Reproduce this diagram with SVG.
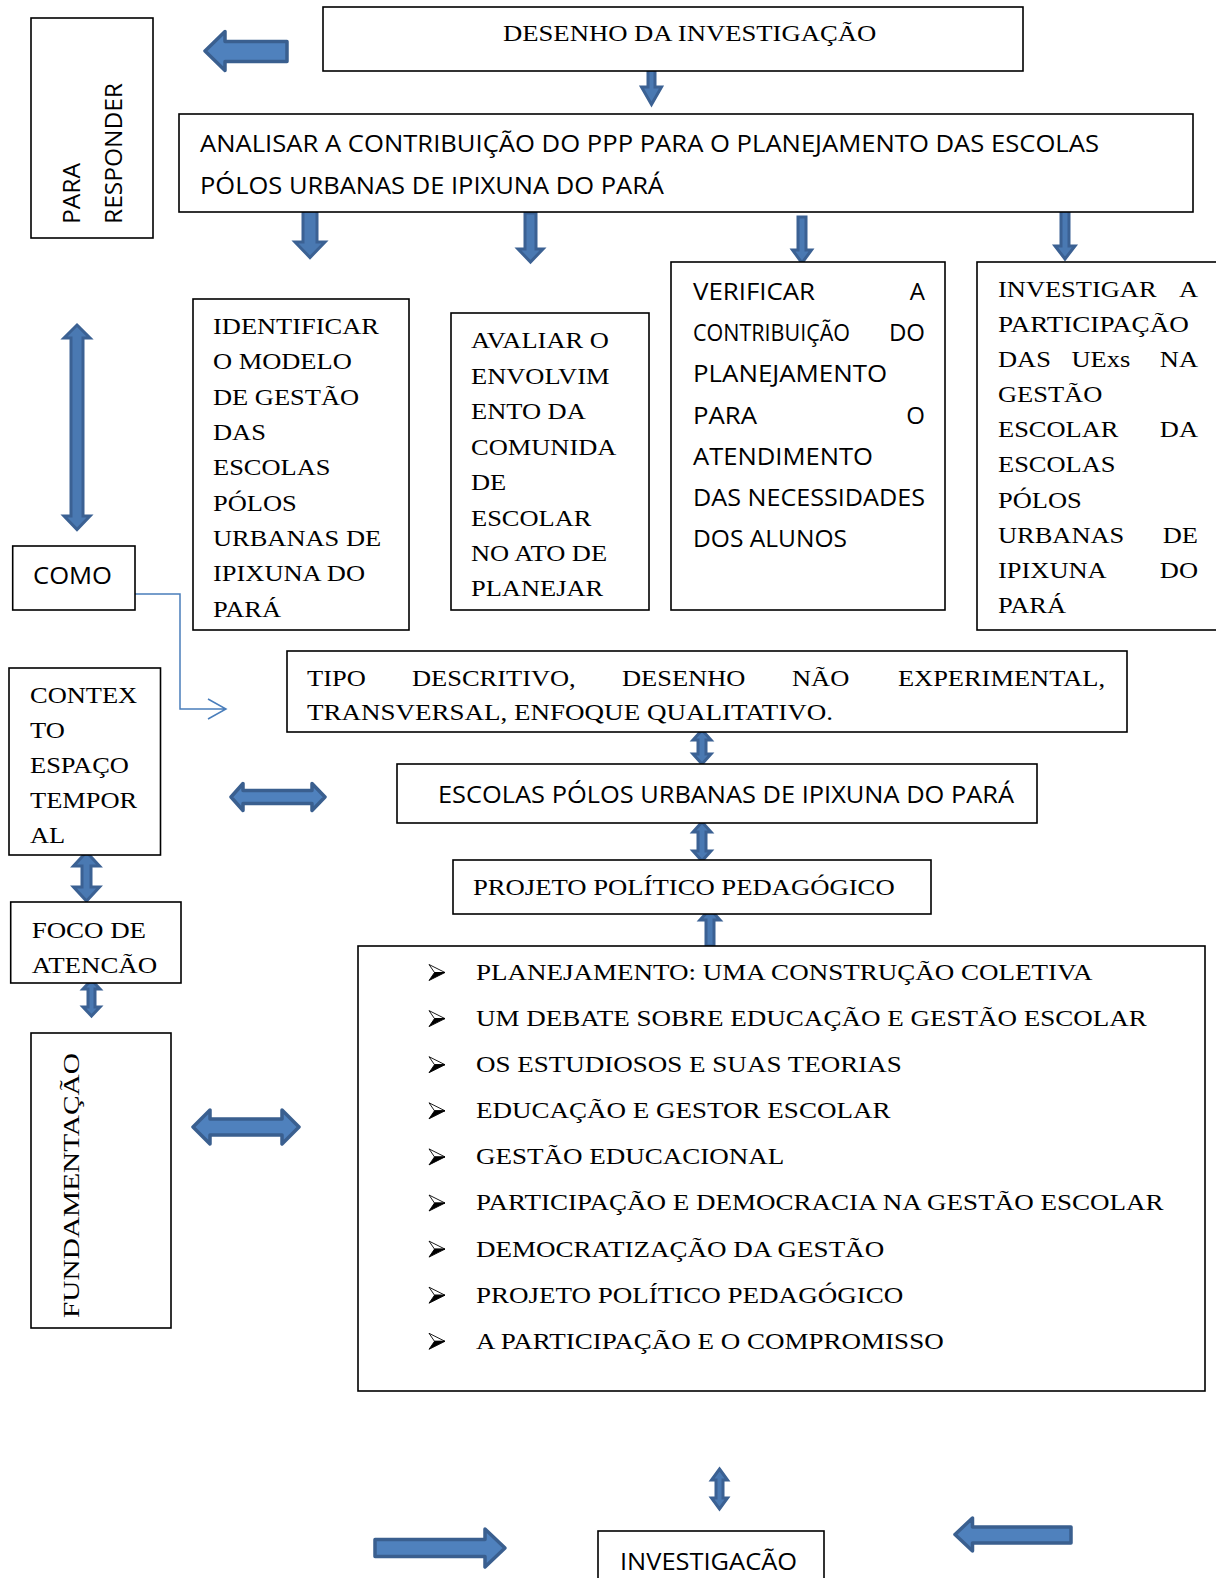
<svg xmlns="http://www.w3.org/2000/svg" xmlns:xlink="http://www.w3.org/1999/xlink" width="1216" height="1578" viewBox="0 0 1216 1578">
<style>
.box{fill:#fff;stroke:#000;stroke-width:1.6}
.sr{font-family:"Liberation Serif","Times New Roman",serif;font-size:23px;fill:#000}
.ss{font-family:"Open Sans","Noto Sans",sans-serif;font-size:24px;fill:#000}
.blk{fill:#4f81bd;stroke:#3a5f8f;stroke-width:3.5;stroke-linejoin:round}
.thin{fill:#4a79b2;stroke:#3b6193;stroke-width:3;stroke-linejoin:miter}
.con{fill:none;stroke:#4a7ebb;stroke-width:1.5}
</style>
<defs>
  <g id="bullet">
    <path d="M-16,-8 L0,0 L-10.5,0 Z" fill="#fff" stroke="#000" stroke-width="0.9" stroke-linejoin="round"/>
    <path d="M-10.5,0 L0,0 L-16,8 Z" fill="#000" stroke="#000" stroke-width="0.9" stroke-linejoin="round"/>
  </g>
</defs>
<rect width="1216" height="1578" fill="#fff"/>

<g id="connectors">
  <path class="blk" d="M205,51 L225,31.5 L225,41.5 L287,41.5 L287,61.5 L225,61.5 L225,70.5 Z"/>
  <path class="thin" d="M648,69 L655,69 L655,87 L661.5,87 L651.5,104.5 L641.5,87 L648,87 Z"/>
  <path class="thin" d="M303,210 L317,210 L317,242 L325,242 L310,257.5 L295,242 L303,242 Z"/>
  <path class="thin" d="M525,213 L536,213 L536,249 L543,249 L530.5,262 L518,249 L525,249 Z"/>
  <path class="thin" d="M798,217 L806,217 L806,250 L811.5,250 L802,263 L792.5,250 L798,250 Z"/>
  <path class="thin" d="M1061,210 L1069,210 L1069,246 L1075,246 L1065,259 L1055,246 L1061,246 Z"/>
  <path class="thin" d="M77,325 L90,338 L83,338 L83,516 L90,516 L77,529.5 L64,516 L71,516 L71,338 L64,338 Z"/>
  <path class="thin" d="M86.5,852 L99.5,866 L91,866 L91,887 L99.5,887 L86.5,901 L73.5,887 L82,887 L82,866 L73.5,866 Z"/>
  <path class="thin" d="M91.5,980 L100,989 L95,989 L95,1007 L100,1007 L91.5,1016 L83,1007 L88,1007 L88,989 L83,989 Z"/>
  <path class="blk" d="M231,797 L243,783.5 L243,790.5 L312,790.5 L312,783.5 L325,797 L312,810.5 L312,803.5 L243,803.5 L243,810.5 Z"/>
  <path class="thin" d="M702,730 L711,740 L706,740 L706,754 L711,754 L702,764 L693,754 L698,754 L698,740 L693,740 Z"/>
  <path class="thin" d="M702,822 L711,832 L706,832 L706,851 L711,851 L702,861 L693,851 L698,851 L698,832 L693,832 Z"/>
  <path class="thin" d="M710,909 L720,920 L714,920 L714,946 L706,946 L706,920 L700,920 Z"/>
  <path class="blk" d="M193,1127 L210,1110 L210,1119 L282,1119 L282,1110 L299,1127 L282,1144 L282,1135 L210,1135 L210,1144 Z"/>
  <path class="thin" d="M719.5,1469 L727.5,1480 L723,1480 L723,1498 L727.5,1498 L719.5,1509 L711.5,1498 L716,1498 L716,1480 L711.5,1480 Z"/>
  <path class="blk" d="M375,1539.5 L485,1539.5 L485,1529 L505,1548 L485,1567 L485,1556.5 L375,1556.5 Z"/>
  <path class="blk" d="M955,1534.5 L972.5,1518 L972.5,1527 L1071,1527 L1071,1543 L972.5,1543 L972.5,1551 Z"/>
  <path class="con" d="M135,594 H180 V709 H225 M208,699 L226,709 L208,719"/>
</g>

<g id="n-para-responder">
  <rect class="box" x="31" y="18" width="122" height="220"/>
  <text class="ss" transform="translate(80,224) rotate(-90)" textLength="61" lengthAdjust="spacingAndGlyphs">PARA</text>
  <text class="ss" transform="translate(121.5,224) rotate(-90)" textLength="141" lengthAdjust="spacingAndGlyphs">RESPONDER</text>
</g>

<g id="n-desenho">
  <rect class="box" x="323" y="7" width="700" height="64"/>
  <text class="sr" transform="translate(503,41) scale(1.16,1)">DESENHO DA INVESTIGAÇÃO</text>
</g>

<g id="n-analisar">
  <rect class="box" x="179" y="114" width="1014" height="98"/>
  <text class="ss" x="200" y="152" textLength="899" lengthAdjust="spacingAndGlyphs">ANALISAR A CONTRIBUIÇÃO DO PPP PARA O PLANEJAMENTO DAS ESCOLAS</text>
  <text class="ss" x="200" y="194" textLength="464" lengthAdjust="spacingAndGlyphs">PÓLOS URBANAS DE IPIXUNA DO PARÁ</text>
</g>

<g id="n-identificar">
  <rect class="box" x="193" y="299" width="216" height="331"/>
  <text class="sr" transform="translate(213,0) scale(1.15,1)">
    <tspan x="0" y="334.2">IDENTIFICAR</tspan>
    <tspan x="0" y="369.5">O MODELO</tspan>
    <tspan x="0" y="404.8">DE GESTÃO</tspan>
    <tspan x="0" y="440.1">DAS</tspan>
    <tspan x="0" y="475.4">ESCOLAS</tspan>
    <tspan x="0" y="510.7">PÓLOS</tspan>
    <tspan x="0" y="546">URBANAS DE</tspan>
    <tspan x="0" y="581.3">IPIXUNA DO</tspan>
    <tspan x="0" y="616.6">PARÁ</tspan>
  </text>
</g>

<g id="n-avaliar">
  <rect class="box" x="451" y="313" width="198" height="297"/>
  <text class="sr" transform="translate(471,0) scale(1.15,1)">
    <tspan x="0" y="348.5">AVALIAR O</tspan>
    <tspan x="0" y="383.9">ENVOLVIM</tspan>
    <tspan x="0" y="419.3">ENTO DA</tspan>
    <tspan x="0" y="454.8">COMUNIDA</tspan>
    <tspan x="0" y="490.2">DE</tspan>
    <tspan x="0" y="525.6">ESCOLAR</tspan>
    <tspan x="0" y="561">NO ATO DE</tspan>
    <tspan x="0" y="596.5">PLANEJAR</tspan>
  </text>
</g>

<g id="n-verificar">
  <rect class="box" x="671" y="262" width="274" height="348"/>
  <text class="ss" x="693" y="300" textLength="122" lengthAdjust="spacingAndGlyphs">VERIFICAR</text>
  <text class="ss" x="925" y="300" text-anchor="end">A</text>
  <text class="ss" x="693" y="341.2" textLength="157" lengthAdjust="spacingAndGlyphs">CONTRIBUIÇÃO</text>
  <text class="ss" x="925" y="341.2" text-anchor="end">DO</text>
  <text class="ss" x="693" y="382.4" textLength="194" lengthAdjust="spacingAndGlyphs">PLANEJAMENTO</text>
  <text class="ss" x="693" y="423.6" textLength="64" lengthAdjust="spacingAndGlyphs">PARA</text>
  <text class="ss" x="925" y="423.6" text-anchor="end">O</text>
  <text class="ss" x="693" y="464.8" textLength="180" lengthAdjust="spacingAndGlyphs">ATENDIMENTO</text>
  <text class="ss" x="693" y="506" textLength="232" lengthAdjust="spacingAndGlyphs">DAS NECESSIDADES</text>
  <text class="ss" x="693" y="547.2" textLength="154" lengthAdjust="spacingAndGlyphs">DOS ALUNOS</text>
</g>

<g id="n-investigar">
  <rect class="box" x="977" y="262" width="245" height="368"/>
  <text class="sr" transform="translate(998,0) scale(1.15,1)">
    <tspan x="0" y="297">INVESTIGAR</tspan>
    <tspan x="0" y="332.1" textLength="166" lengthAdjust="spacingAndGlyphs">PARTICIPAÇÃO</tspan>
    <tspan x="0" y="367.2">DAS</tspan>
    <tspan x="0" y="402.3">GESTÃO</tspan>
    <tspan x="0" y="437.4">ESCOLAR</tspan>
    <tspan x="0" y="472.5">ESCOLAS</tspan>
    <tspan x="0" y="507.6">PÓLOS</tspan>
    <tspan x="0" y="542.7">URBANAS</tspan>
    <tspan x="0" y="577.8">IPIXUNA</tspan>
    <tspan x="0" y="612.9">PARÁ</tspan>
  </text>
  <text class="sr" transform="translate(1071.5,367.2) scale(1.15,1)">UExs</text>
  <text class="sr" text-anchor="end" transform="translate(1198,297) scale(1.15,1)">A</text>
  <text class="sr" text-anchor="end" transform="translate(1198,367.2) scale(1.15,1)">NA</text>
  <text class="sr" text-anchor="end" transform="translate(1198,437.4) scale(1.15,1)">DA</text>
  <text class="sr" text-anchor="end" transform="translate(1198,542.7) scale(1.15,1)">DE</text>
  <text class="sr" text-anchor="end" transform="translate(1198,577.8) scale(1.15,1)">DO</text>
</g>

<g id="n-como">
  <rect class="box" x="12.7" y="546" width="122.3" height="64"/>
  <text class="ss" x="33" y="584" textLength="79" lengthAdjust="spacingAndGlyphs">COMO</text>
</g>

<g id="n-tipo">
  <rect class="box" x="287" y="651" width="840" height="81"/>
  <text class="sr" transform="translate(307,685.5) scale(1.15,1)">TIPO</text>
  <text class="sr" transform="translate(412,685.5) scale(1.15,1)">DESCRITIVO,</text>
  <text class="sr" transform="translate(622,685.5) scale(1.15,1)">DESENHO</text>
  <text class="sr" transform="translate(792,685.5) scale(1.15,1)">NÃO</text>
  <text class="sr" text-anchor="end" transform="translate(1105,685.5) scale(1.15,1)">EXPERIMENTAL,</text>
  <text class="sr" transform="translate(307,720) scale(1.175,1)">TRANSVERSAL, ENFOQUE QUALITATIVO.</text>
</g>

<g id="n-contexto">
  <rect class="box" x="9" y="668" width="151.5" height="187"/>
  <text class="sr" transform="translate(30,0) scale(1.15,1)">
    <tspan x="0" y="703">CONTEX</tspan>
    <tspan x="0" y="738">TO</tspan>
    <tspan x="0" y="773">ESPAÇO</tspan>
    <tspan x="0" y="808">TEMPOR</tspan>
    <tspan x="0" y="843">AL</tspan>
  </text>
</g>

<g id="n-escolas">
  <rect class="box" x="397" y="764" width="640" height="59"/>
  <text class="ss" x="438" y="803" textLength="576" lengthAdjust="spacingAndGlyphs">ESCOLAS PÓLOS URBANAS DE IPIXUNA DO PARÁ</text>
</g>

<g id="n-projeto">
  <rect class="box" x="453" y="860" width="478" height="54"/>
  <text class="sr" transform="translate(473,895) scale(1.16,1)">PROJETO POLÍTICO PEDAGÓGICO</text>
</g>

<g id="n-foco">
  <rect class="box" x="10.7" y="902" width="170.3" height="81"/>
  <text class="sr" transform="translate(31.7,0) scale(1.17,1)">
    <tspan x="0" y="938">FOCO DE</tspan>
    <tspan x="0" y="972.7">ATENCÃO</tspan>
  </text>
</g>

<g id="n-fundamentacao">
  <rect class="box" x="31" y="1033" width="140" height="295"/>
  <text class="sr" transform="translate(79,1318) rotate(-90)" textLength="265" lengthAdjust="spacingAndGlyphs">FUNDAMENTAÇÃO</text>
</g>

<g id="n-lista">
  <rect class="box" x="358" y="946" width="847" height="445"/>
  <use xlink:href="#bullet" href="#bullet" x="445" y="972.5"/>
  <use xlink:href="#bullet" href="#bullet" x="445" y="1018.6"/>
  <use xlink:href="#bullet" href="#bullet" x="445" y="1064.7"/>
  <use xlink:href="#bullet" href="#bullet" x="445" y="1110.8"/>
  <use xlink:href="#bullet" href="#bullet" x="445" y="1156.9"/>
  <use xlink:href="#bullet" href="#bullet" x="445" y="1203"/>
  <use xlink:href="#bullet" href="#bullet" x="445" y="1249.1"/>
  <use xlink:href="#bullet" href="#bullet" x="445" y="1295.2"/>
  <use xlink:href="#bullet" href="#bullet" x="445" y="1341.3"/>
  <text class="sr" transform="translate(476,0) scale(1.175,1)">
    <tspan x="0" y="980">PLANEJAMENTO: UMA CONSTRUÇÃO COLETIVA</tspan>
    <tspan x="0" y="1026.1">UM DEBATE SOBRE EDUCAÇÃO E GESTÃO ESCOLAR</tspan>
    <tspan x="0" y="1072.2">OS ESTUDIOSOS E SUAS TEORIAS</tspan>
    <tspan x="0" y="1118.3">EDUCAÇÃO E GESTOR ESCOLAR</tspan>
    <tspan x="0" y="1164.4">GESTÃO EDUCACIONAL</tspan>
    <tspan x="0" y="1210.5">PARTICIPAÇÃO E DEMOCRACIA NA GESTÃO ESCOLAR</tspan>
    <tspan x="0" y="1256.6">DEMOCRATIZAÇÃO DA GESTÃO</tspan>
    <tspan x="0" y="1302.7">PROJETO POLÍTICO PEDAGÓGICO</tspan>
    <tspan x="0" y="1348.8">A PARTICIPAÇÃO E O COMPROMISSO</tspan>
  </text>
</g>

<g id="n-investigacao">
  <rect class="box" x="598" y="1531" width="226" height="60"/>
  <text class="ss" x="620" y="1570" textLength="177" lengthAdjust="spacingAndGlyphs">INVESTIGACÃO</text>
</g>
</svg>
